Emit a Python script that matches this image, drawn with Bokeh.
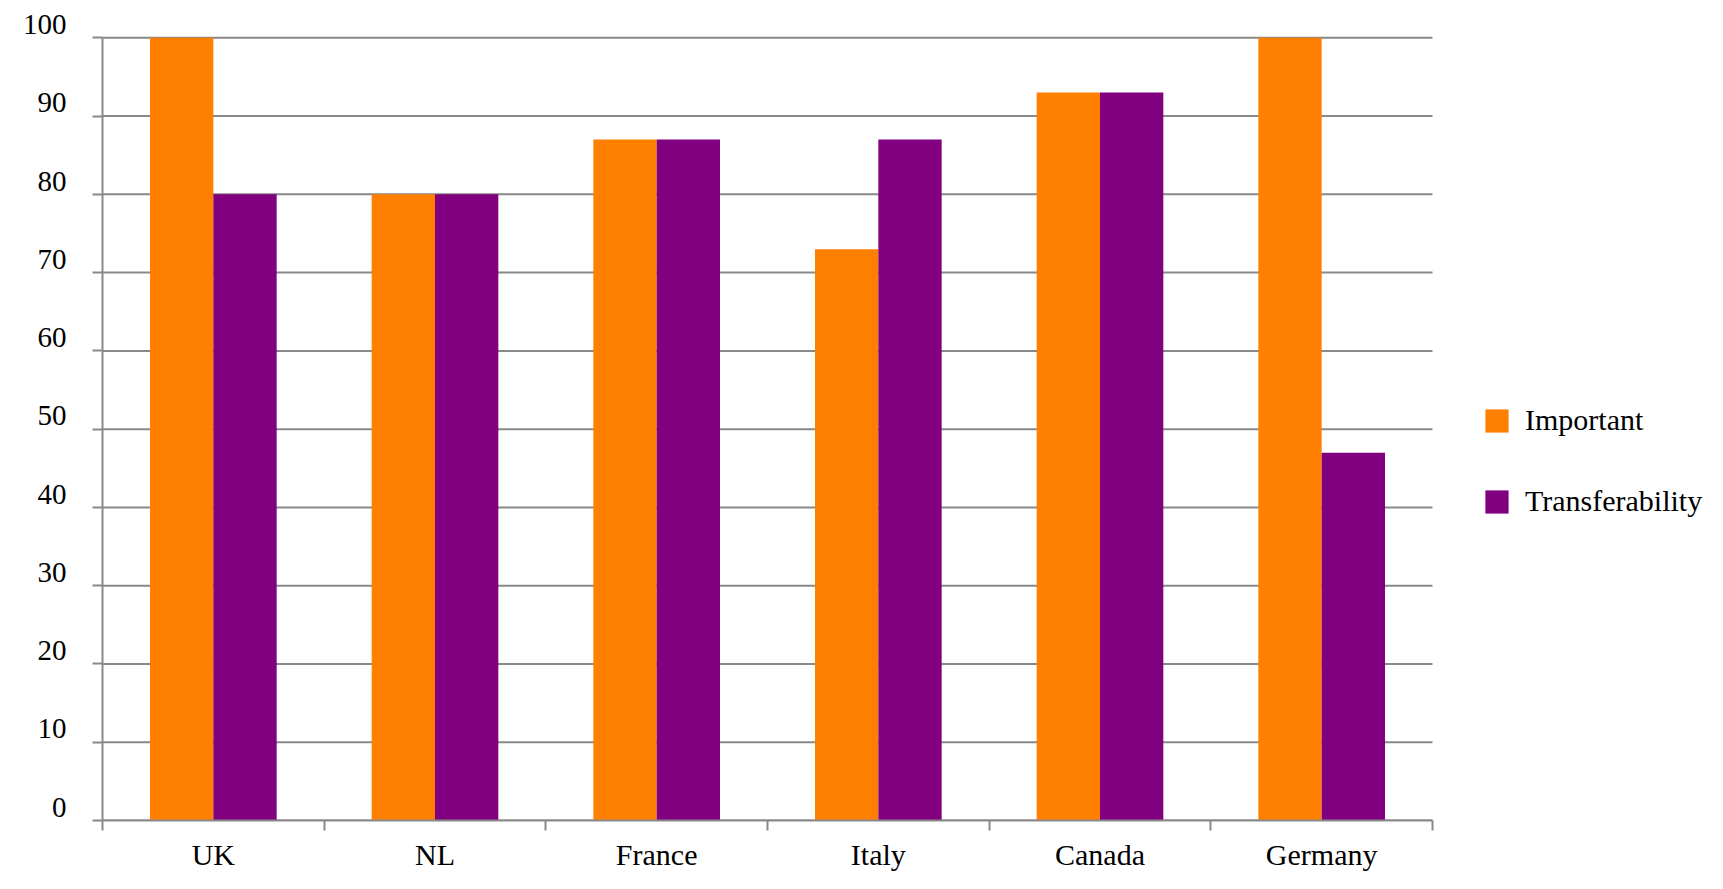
from bokeh.plotting import figure
from bokeh.models import (FixedTicker, Legend, LegendItem, ColumnDataSource,
                          Range1d)
from bokeh.embed import file_html
from bokeh.resources import INLINE

# ---- data ----
countries = ["UK", "NL", "France", "Italy", "Canada", "Germany"]
important = [100, 80, 87, 73, 93, 100]
transferability = [80, 80, 87, 87, 93, 47]
y_ticks = [0, 10, 20, 30, 40, 50, 60, 70, 80, 90, 100]

ORANGE = "#FF8000"
PURPLE = "#800080"
GRAY = "#898989"
FONT = "Liberation Serif"

n = len(countries)
centers = [i + 0.5 for i in range(n)]
bar_w = 1 / 3.5

# plot area: 1330 px for the categories, the frame continues to hold the legend
FRAME_W = 1605
DATA_W = 1330
x_end = n * FRAME_W / DATA_W

# value labels sit slightly above their grid line (as in the original)
LABEL_LIFT = 1.7
y_max = max(y_ticks)
y_end = y_max + LABEL_LIFT
label_pos = [t + LABEL_LIFT for t in y_ticks]

src = ColumnDataSource(dict(
    x=centers,
    x_imp=[c - bar_w / 2 for c in centers],
    x_tr=[c + bar_w / 2 for c in centers],
    important=important,
    transferability=transferability,
))

grid_src = ColumnDataSource(dict(
    y=y_ticks,
    x0=[0] * len(y_ticks),
    x1=[n] * len(y_ticks),
))

p = figure(width=1707, height=873, x_range=Range1d(0, x_end),
           y_range=Range1d(0, y_end), output_backend="svg",
           toolbar_location=None, min_border_left=102, min_border_top=24,
           min_border_right=0, min_border_bottom=0)
p.outline_line_color = None
p.background_fill_color = "white"

# horizontal grid lines, limited to the category area
p.segment(x0="x0", x1="x1", y0="y", y1="y", source=grid_src,
          line_color=GRAY, line_width=2)

r1 = p.vbar(x="x_imp", top="important", width=bar_w, source=src,
            fill_color=ORANGE, line_color=None)
r2 = p.vbar(x="x_tr", top="transferability", width=bar_w, source=src,
            fill_color=PURPLE, line_color=None)

# x axis: labels at category centres, tick marks at category boundaries
p.xaxis.ticker = FixedTicker(ticks=centers, minor_ticks=list(range(n + 1)))
p.xaxis.bounds = (0, n)
p.xaxis.major_label_overrides = {c: lab for c, lab in zip(centers, countries)}
p.xaxis.major_tick_in = 0
p.xaxis.major_tick_out = 0
p.xaxis.minor_tick_in = 0
p.xaxis.minor_tick_out = 10
p.xaxis.minor_tick_line_color = GRAY
p.xaxis.minor_tick_line_width = 2
p.xaxis.axis_line_color = GRAY
p.xaxis.axis_line_width = 2
p.xaxis.major_label_text_font = FONT
p.xaxis.major_label_text_font_size = "30px"
p.xaxis.major_label_text_color = "black"
p.xaxis.major_label_standoff = 7

# y axis: tick marks at the values, labels just above them
p.yaxis.ticker = FixedTicker(ticks=label_pos, minor_ticks=y_ticks)
p.yaxis.bounds = (0, y_max)
p.yaxis.major_label_overrides = {lp: str(t) for lp, t in zip(label_pos, y_ticks)}
p.yaxis.major_tick_in = 0
p.yaxis.major_tick_out = 0
p.yaxis.minor_tick_in = 0
p.yaxis.minor_tick_out = 10
p.yaxis.minor_tick_line_color = GRAY
p.yaxis.minor_tick_line_width = 2
p.yaxis.axis_line_color = GRAY
p.yaxis.axis_line_width = 2
p.yaxis.major_label_text_font = FONT
p.yaxis.major_label_text_font_size = "29px"
p.yaxis.major_label_text_color = "black"
p.yaxis.major_label_standoff = 26

p.xgrid.grid_line_color = None
p.ygrid.grid_line_color = None

legend = Legend(items=[LegendItem(label="Important", renderers=[r1]),
                       LegendItem(label="Transferability", renderers=[r2])],
                location=(1380, 302), orientation="vertical",
                glyph_width=29, glyph_height=29, label_height=24,
                label_standoff=14, spacing=47, padding=0, margin=0,
                border_line_color=None, background_fill_alpha=0,
                label_text_font=FONT, label_text_font_size="30px",
                label_text_baseline="alphabetic", label_text_color="black")
p.add_layout(legend, "center")

open("out.html", "w").write(file_html(p, INLINE))
